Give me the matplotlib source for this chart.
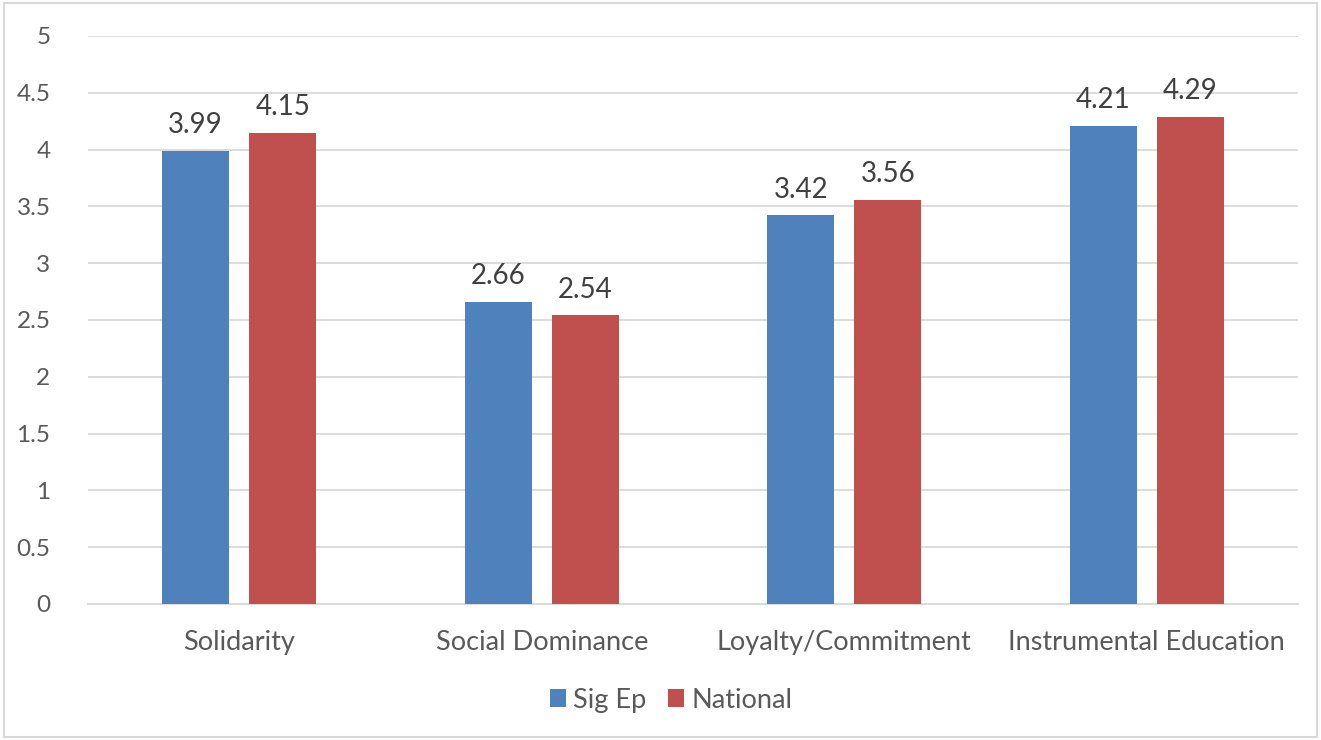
import numpy as np
import matplotlib
matplotlib.use("Agg")
import matplotlib.pyplot as plt
from matplotlib.patches import Rectangle

categories = ["Solidarity", "Social Dominance", "Loyalty/Commitment", "Instrumental Education"]
sig_ep = [3.99, 2.66, 3.42, 4.21]
national = [4.15, 2.54, 3.56, 4.29]
series_names = ["Sig Ep", "National"]
yticks = [0, 0.5, 1, 1.5, 2, 2.5, 3, 3.5, 4, 4.5, 5]

blue = "#4F81BD"
red = "#C0504D"
text_col = "#595959"
grid_col = "#D9D9D9"

plt.rcParams["font.family"] = ["Lato", "DejaVu Sans"]

fig = plt.figure(figsize=(13.21, 7.40), dpi=100)
ax = fig.add_axes([0.0666, 0.1838, 0.9160, 0.7676])

x = np.arange(len(categories))
w = 0.222
off = 0.144
b1 = ax.bar(x - off, sig_ep, w, color=blue, label=series_names[0], zorder=3)
b2 = ax.bar(x + off, national, w, color=red, label=series_names[1], zorder=3)

for bars, vals in [(b1, sig_ep), (b2, national)]:
    for b, v in zip(bars, vals):
        ax.annotate(f"{v:.2f}", (b.get_x() + b.get_width() / 2, v),
                    xytext=(0, 9), textcoords="offset points",
                    ha="center", va="bottom", fontsize=20, color="#404040")

ax.set_xlim(-0.5, len(categories) - 0.5)
ax.set_ylim(0, 5)
ax.set_yticks(yticks)
ax.set_yticklabels([f"{t:g}" for t in yticks])
ax.set_xticks(x)
ax.set_xticklabels(categories)
ax.tick_params(axis="y", length=0, pad=27, labelsize=17.5, labelcolor=text_col)
ax.tick_params(axis="x", length=0, pad=19, labelsize=19.5, labelcolor=text_col)
ax.grid(axis="y", color=grid_col, linewidth=1.3, zorder=0)
for s in ["top", "right", "left"]:
    ax.spines[s].set_visible(False)
ax.spines["bottom"].set_color(grid_col)
ax.spines["bottom"].set_linewidth(1.3)

leg = fig.legend(loc="center", bbox_to_anchor=(0.508, 0.054), ncol=2, frameon=False,
                 fontsize=19.5, handlelength=0.6, handleheight=0.6,
                 handletextpad=0.25, columnspacing=0.8)
for t in leg.get_texts():
    t.set_color(text_col)

fig.patches.append(Rectangle((0.003, 0.004), 0.994, 0.992, transform=fig.transFigure,
                             fill=False, edgecolor=grid_col, linewidth=1.5))

fig.savefig("out.png", dpi=100)
